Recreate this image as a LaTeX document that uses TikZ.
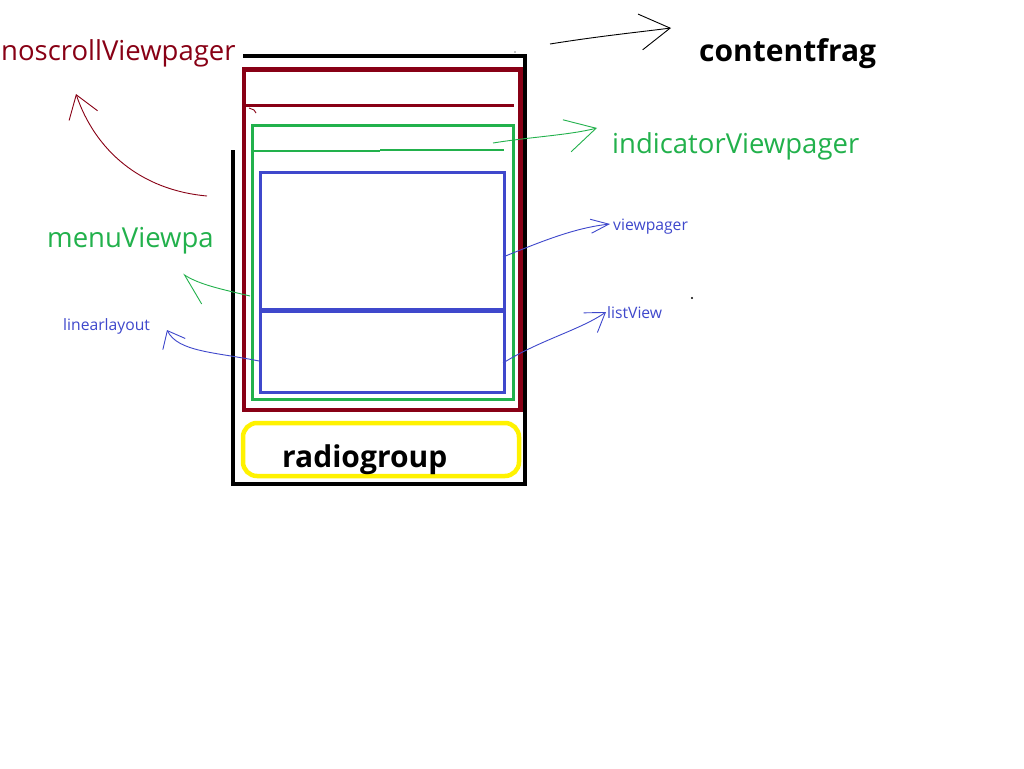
\documentclass[tikz,border=0pt]{standalone}
\usepackage{fontspec}
\setmainfont{Open Sans}
\usepackage{xcolor}
\usetikzlibrary{arrows.meta}

\definecolor{paintred}{HTML}{880015}
\definecolor{paintgreen}{HTML}{22B14C}
\definecolor{paintblue}{HTML}{3F48CC}
\definecolor{paintyellow}{HTML}{FFF200}

\begin{document}
\begin{tikzpicture}[x=1pt, y=-1pt,
    thickbox/.style={line width=4.5pt},
    thinbox/.style={line width=3pt},
    pen/.style={line width=0.9pt},
    bigtext/.style={font=\fontsize{27.5}{32}\selectfont, inner sep=0pt, anchor=base west},
    boldtext/.style={bigtext, font=\fontsize{30}{34}\selectfont\bfseries},
    smalltext/.style={font=\fontsize{15.7}{18}\selectfont, inner sep=0pt, anchor=base west}]
            \useasboundingbox[fill=white] (0,0) rectangle (1024,768);

            % 外框 (contentfrag)
            \draw[thickbox, black] (243,56) -- (525,56) -- (525,484) -- (233,484) -- (233,150);
            \node[boldtext] (contentfrag) at (699,61) {contentfrag};

            % noscrollViewpager
            \draw[thickbox, paintred] (244,69.5) rectangle (520.5,410);
            \draw[line width=2.5pt, paintred] (245,105.5) -- (514,105.5);
            \draw[pen, paintred] (249,108) -- (254,110) -- (256,113);
            \node[bigtext, text=paintred] (noscroll) at (1,60) {noscrollViewpager};

            % indicatorViewpager / menuViewpa
            \draw[thinbox, paintgreen] (252.7,125.5) rectangle (513.5,399.5);
            \draw[line width=2.5pt, paintgreen] (253,151) -- (380,151);
            \draw[line width=2.5pt, paintgreen] (380,150) -- (504,150);
            \node[bigtext, text=paintgreen] (indicator) at (612,153) {indicatorViewpager};
            \node[bigtext, text=paintgreen] (menu) at (47,247) {menuViewpa};

            % viewpager + listView
            \draw[thinbox, paintblue] (260,172) rectangle (504.5,392);
            \draw[thickbox, paintblue] (260,310.5) -- (504.5,310.5);
            \node[smalltext, text=paintblue] (viewpager) at (613,230) {viewpager};
            \node[smalltext, text=paintblue] (listview) at (607,318) {listView};
            \node[smalltext, text=paintblue] (linear) at (63,330) {linearlayout};

            % radiogroup
            \draw[thickbox, paintyellow, rounded corners=14pt] (243,423) rectangle (519,476);
            \node[boldtext] (radio) at (282,467) {radiogroup};

            % 箭头
            \coordinate (cf-tail) at (550,44);
            \coordinate (cf-tip) at (671,28);
            \draw[pen, -{Straight Barb[length=30pt, width=36pt]}] (cf-tail) .. controls (600,36) and (640,32) .. (cf-tip);

            \coordinate (ns-tail) at (207,196);
            \coordinate (ns-tip) at (76,94);
            \draw[pen, paintred, -{Straight Barb[length=22pt, width=30pt]}] (ns-tail) .. controls (140,190) and (95,150) .. (ns-tip);

            \coordinate (ind-tail) at (493,143);
            \coordinate (ind-tip) at (597,128);
            \draw[pen, paintgreen, -{Straight Barb[length=30pt, width=33pt]}] (ind-tail) .. controls (530,137) and (570,135) .. (ind-tip);

            \coordinate (menu-tail) at (250,296);
            \coordinate (menu-tip) at (183,274);
            \draw[pen, paintgreen, -{Straight Barb[left, length=30pt, width=30pt]}] (menu-tail) .. controls (225,290) and (200,285) .. (menu-tip);

            \coordinate (ll-tail) at (259,361);
            \coordinate (ll-tip) at (167,330);
            \draw[pen, paintblue, -{Straight Barb[length=15pt, width=25pt]}] (ll-tail) .. controls (215,352) and (178,352) .. (ll-tip);

            \coordinate (vp-tail) at (503,257);
            \coordinate (vp-tip) at (610,224);
            \draw[pen, paintblue, -{Straight Barb[length=18pt, width=14pt]}] (vp-tail) .. controls (545,240) and (575,228) .. (vp-tip);

            \coordinate (lv-tail) at (503,363);
            \coordinate (lv-tip) at (606,312);
            \draw[pen, paintblue, -{Straight Barb[length=18pt, width=24pt]}] (lv-tail) .. controls (540,340) and (580,330) .. (lv-tip);

            % 小点
            \fill (692,298) circle (1.2);
            \fill (515,52) circle (0.6);
        \end{tikzpicture}
\end{document}
